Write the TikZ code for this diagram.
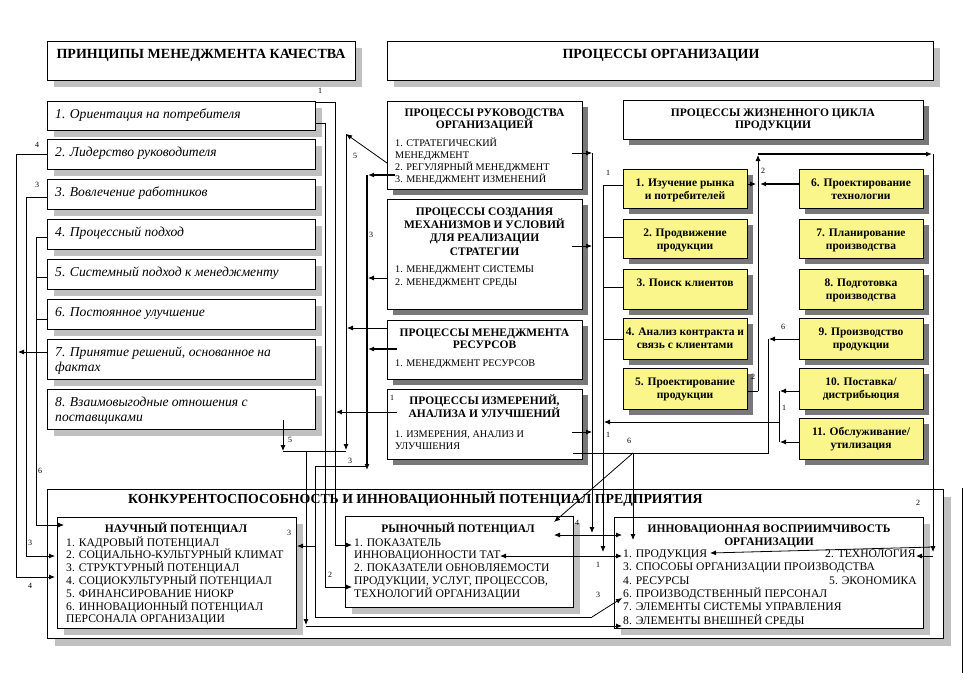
\documentclass[tikz,border=0pt]{standalone}
\usepackage{fontspec}
\setmainfont{Liberation Serif}
\usetikzlibrary{arrows.meta,shadows}
\definecolor{lshade}{RGB}{192,192,192}
\definecolor{dshade}{RGB}{120,120,120}
\definecolor{ybox}{RGB}{250,246,140}
\begin{document}
\begin{tikzpicture}[x=1pt,y=-1pt,
  bx/.style={draw, fill=white, line width=0.9pt, anchor=north west, inner sep=0pt, outer sep=0pt},
  yb/.style={bx, fill=ybox, dsh, minimum width=124pt},
  lsh/.style={general shadow={fill=lshade, shadow xshift=7pt, shadow yshift=-7pt}},
  dsh/.style={general shadow={fill=dshade, shadow xshift=6pt, shadow yshift=-6pt}},
  ht/.style={font=\fontsize{14}{16}\selectfont\bfseries, anchor=base, inner sep=0pt},
  lt/.style={font=\fontsize{13.6}{15}\selectfont\itshape, anchor=base west, inner sep=0pt},
  ct/.style={font=\fontsize{11.5}{13}\selectfont\bfseries, anchor=base, inner sep=0pt},
  ci/.style={font=\fontsize{10.2}{12}\selectfont, anchor=base west, inner sep=0pt},
  yt/.style={font=\fontsize{11.5}{13}\selectfont\bfseries, anchor=base, inner sep=0pt},
  bt/.style={font=\fontsize{11.6}{13}\selectfont, anchor=base west, inner sep=0pt},
  num/.style={font=\fontsize{8}{9}\selectfont, inner sep=0pt},
  ln/.style={line width=0.8pt},
  ar/.style={ln, -{Latex[length=6pt,width=5pt]}},
  dar/.style={ln, {Latex[length=6pt,width=5pt]}-{Latex[length=6pt,width=5pt]}},
  tk/.style={line width=1.7pt}
]
\useasboundingbox (0,0) rectangle (965,681);

% ---------- boxes ----------
\node[bx,lsh,minimum width=308pt,minimum height=39pt] (h1) at (47,41) {};
\node[bx,lsh,minimum width=546pt,minimum height=39pt] (h2) at (387,41) {};

\node[bx,lsh,minimum width=268pt,minimum height=29pt] (p1) at (47,101) {};
\node[bx,lsh,minimum width=268pt,minimum height=30pt] (p2) at (47,139) {};
\node[bx,lsh,minimum width=268pt,minimum height=30pt] (p3) at (47,179) {};
\node[bx,lsh,minimum width=268pt,minimum height=30pt] (p4) at (47,219) {};
\node[bx,lsh,minimum width=268pt,minimum height=30pt] (p5) at (47,259) {};
\node[bx,lsh,minimum width=268pt,minimum height=30pt] (p6) at (47,299) {};
\node[bx,lsh,minimum width=268pt,minimum height=40pt] (p7) at (47,339) {};
\node[bx,lsh,minimum width=268pt,minimum height=40pt] (p8) at (47,389) {};

\node[bx,dsh,minimum width=195pt,minimum height=88pt] (rk) at (387,101) {};
\node[bx,dsh,minimum width=195pt,minimum height=110pt] (sm) at (387,199) {};
\node[bx,dsh,minimum width=195pt,minimum height=59pt] (mr) at (387,320) {};
\node[bx,dsh,minimum width=195pt,minimum height=70pt] (iz) at (387,389) {};

\node[bx,dsh,minimum width=300pt,minimum height=39pt] (zc) at (623,100) {};

\node[yb,minimum height=39pt] (y1) at (623,169) {};
\node[yb,minimum height=39pt] (y2) at (623,219) {};
\node[yb,minimum height=40pt] (y3) at (623,269) {};
\node[yb,minimum height=41pt] (y4) at (623,318) {};
\node[yb,minimum height=41pt] (y5) at (623,368) {};
\node[yb,minimum height=39pt] (y6) at (799,169) {};
\node[yb,minimum height=39pt] (y7) at (799,219) {};
\node[yb,minimum height=40pt] (y8) at (799,269) {};
\node[yb,minimum height=41pt] (y9) at (799,318) {};
\node[yb,minimum height=41pt] (y10) at (799,368) {};
\node[yb,minimum height=41pt] (y11) at (799,418) {};

\node[bx,general shadow={fill=lshade, shadow xshift=8pt, shadow yshift=-8pt},minimum width=896pt,minimum height=149pt] (kb) at (47,489) {};
\node[bx,lsh,minimum width=239pt,minimum height=111pt] (np) at (57,517) {};
\node[bx,lsh,minimum width=228pt,minimum height=91pt] (rp) at (345,516) {};
\node[bx,lsh,minimum width=309pt,minimum height=111pt] (iv) at (614,517) {};

% ---------- connectors ----------
\draw[ar] (p1.east|-0,102) -- (335,102) -- (335,545) -- (352,545);
\draw[ar] (p1.east|-0,123) -- (325,123) -- (325,587) -- (352,587);
\draw[ar] (p2.west|-0,154) -- (16,154) -- (16,577) -- (55,577);
\draw[ar] (p7.west|-0,352) -- (18,352);
\draw[ar] (p3.west|-0,197) -- (26,197) -- (26,556) -- (55,556);
\draw[ar] (p4.west|-0,237) -- (36,237) -- (36,525) -- (64,525);
\draw[ln] (p5.west|-0,277) -- (36,277);
\draw[ln] (p6.west|-0,319) -- (36,319);
\draw[ar] (283,420) -- (283,451);
\draw[ln] (283,451) -- (346,451);
\draw[ar] (306,451) -- (306,625);
\draw[ar] (306,626) -- (622,626);
\draw[ar] (rk.west|-0,163) -- (346,134);
\draw[ar] (346,134) -- (346,450);
\draw[ar] (mr.west|-0,328) -- (347,328);
\draw[ar,tk] (395,175) -- (368,175);
\draw[ar,tk] (367,175) -- (367,470);
\draw[ar] (sm.west|-0,278) -- (368,278);
\draw[ar,tk] (397,349) -- (368,349);
\draw[ln] (367,466) -- (315,466) -- (315,617) -- (592,617);
\draw[ar] (592,617) -- (622,598);
\draw[ar] (315,546) -- (297,546);
\draw[ar] (397,412) -- (336,412);
\draw[ar] (572,153) -- (592,153);
\draw[ar] (572,246) -- (592,246);
\draw[ar] (572,432) -- (592,432);
\draw[ar] (592,153) -- (592,533);
\draw[dar] (554,535) -- (622,535);
\draw[ar] (y1.west|-0,185) -- (603,185) -- (603,552);
\draw[ln] (603,237) -- (y2.west|-0,237);
\draw[ln] (603,287) -- (y3.west|-0,287);
\draw[ln] (603,339) -- (y4.west|-0,339);
\draw[ar] (779,422) -- (604,422);
\draw[dar] (500,556) -- (622,556);
\draw[ln] (573,453) -- (768,453) -- (768,339);
\draw[ar] (y9.west|-0,339) -- (769,339);
\draw[ar] (633,453) -- (633,540);
\draw[ar] (633,453) -- (554,522);
\draw[ar] (y10.west|-0,391) -- (780,391);
\draw[ar] (y11.west|-0,442) -- (780,442);
\draw[ln] (779,391) -- (779,442);
\draw[ln] (y5.east|-0,391) -- (758,391);
\draw[ar] (758,391) -- (758,155);
\draw[ar,tk] (758,154) -- (932,154);
\draw[ar] (933,154) -- (933,552);
\draw[ar] (933,556) -- (916,556);
\draw[ar] (933,547) -- (710,553);
\draw[ar] (y1.east|-0,184) -- (756,184);
\draw[ar,tk] (y6.west|-0,184) -- (760,184);
\draw[ln] (962,488) -- (962,673);

% ---------- labels ----------
\node[num] (n1) at (320,91) {1};
\node[num] (n2) at (355,156) {5};
\node[num] (n3) at (371,235) {3};
\node[num] (n4) at (37,145) {4};
\node[num] (n5) at (37,185) {3};
\node[num] (n6) at (40,471) {6};
\node[num] (n7) at (290,440) {5};
\node[num] (n8) at (350,461) {3};
\node[num] (n9) at (392,398) {1};
\node[num] (n10) at (289,533) {3};
\node[num] (n11) at (30,543) {3};
\node[num] (n12) at (30,586) {4};
\node[num] (n13) at (330,575) {2};
\node[num] (n14) at (577,523) {4};
\node[num] (n15) at (598,565) {1};
\node[num] (n16) at (598,595) {3};
\node[num] (n17) at (608,173) {1};
\node[num] (n18) at (608,435) {1};
\node[num] (n19) at (629,441) {6};
\node[num] (n20) at (783,327) {6};
\node[num] (n21) at (784,408) {1};
\node[num] (n22) at (763,171) {2};
\node[num] (n23) at (753,377) {2};
\node[num] (n24) at (918,503) {2};

% ---------- texts ----------
\node[ht] (h1t) at (201,58) {ПРИНЦИПЫ МЕНЕДЖМЕНТА КАЧЕСТВА};
\node[ht] (h2t) at (661,58) {ПРОЦЕССЫ ОРГАНИЗАЦИИ};

\node[lt] (p1t) at (55,118) {1. Ориентация на потребителя};
\node[lt] (p2t) at (55,156.5) {2. Лидерство руководителя};
\node[lt] (p3t) at (55,196.5) {3. Вовлечение работников};
\node[lt] (p4t) at (55,236.5) {4. Процессный подход};
\node[lt] (p5t) at (55,276.5) {5. Системный подход к менеджменту};
\node[lt] (p6t) at (55,316.5) {6. Постоянное улучшение};
\node[lt] (p7t) at (55,356.5) {7. Принятие решений, основанное на};
\node[lt] (p7u) at (55,371.5) {фактах};
\node[lt] (p8t) at (55,406.5) {8. Взаимовыгодные отношения с};
\node[lt] (p8u) at (55,421.5) {поставщиками};

\node[ct] (rkt1) at (484.5,116) {ПРОЦЕССЫ РУКОВОДСТВА};
\node[ct] (rkt2) at (484.5,128) {ОРГАНИЗАЦИЕЙ};
\node[ci] (rki1) at (395,146) {1. СТРАТЕГИЧЕСКИЙ};
\node[ci] (rki2) at (395,158) {МЕНЕДЖМЕНТ};
\node[ci] (rki3) at (395,170) {2. РЕГУЛЯРНЫЙ МЕНЕДЖМЕНТ};
\node[ci] (rki4) at (395,182) {3. МЕНЕДЖМЕНТ ИЗМЕНЕНИЙ};

\node[ct] (smt1) at (484.5,215) {ПРОЦЕССЫ СОЗДАНИЯ};
\node[ct] (smt2) at (484.5,228) {МЕХАНИЗМОВ И УСЛОВИЙ};
\node[ct] (smt3) at (484.5,241) {ДЛЯ РЕАЛИЗАЦИИ};
\node[ct] (smt4) at (484.5,255) {СТРАТЕГИИ};
\node[ci] (smi1) at (395,272) {1. МЕНЕДЖМЕНТ СИСТЕМЫ};
\node[ci] (smi2) at (395,285) {2. МЕНЕДЖМЕНТ СРЕДЫ};

\node[ct] (mrt1) at (484.5,336) {ПРОЦЕССЫ МЕНЕДЖМЕНТА};
\node[ct] (mrt2) at (484.5,348) {РЕСУРСОВ};
\node[ci] (mri1) at (395,366) {1. МЕНЕДЖМЕНТ РЕСУРСОВ};

\node[ct] (izt1) at (484.5,404) {ПРОЦЕССЫ ИЗМЕРЕНИЙ,};
\node[ct] (izt2) at (484.5,417) {АНАЛИЗА И УЛУЧШЕНИЙ};
\node[ci] (izi1) at (395,437) {1. ИЗМЕРЕНИЯ, АНАЛИЗ И};
\node[ci] (izi2) at (395,449) {УЛУЧШЕНИЯ};

\node[ct] (zct1) at (773,116) {ПРОЦЕССЫ ЖИЗНЕННОГО ЦИКЛА};
\node[ct] (zct2) at (773,128) {ПРОДУКЦИИ};

\node[yt] (y1a) at (685,186) {1. Изучение рынка};
\node[yt] (y1b) at (685,199) {и потребителей};
\node[yt] (y2a) at (685,236) {2. Продвижение};
\node[yt] (y2b) at (685,249) {продукции};
\node[yt] (y3a) at (685,286) {3. Поиск клиентов};
\node[yt] (y4a) at (685,335) {4. Анализ контракта и};
\node[yt] (y4b) at (685,348) {связь с клиентами};
\node[yt] (y5a) at (685,385) {5. Проектирование};
\node[yt] (y5b) at (685,398) {продукции};
\node[yt] (y6a) at (861,186) {6. Проектирование};
\node[yt] (y6b) at (861,199) {технологии};
\node[yt] (y7a) at (861,236) {7. Планирование};
\node[yt] (y7b) at (861,249) {производства};
\node[yt] (y8a) at (861,286) {8. Подготовка};
\node[yt] (y8b) at (861,299) {производства};
\node[yt] (y9a) at (861,335) {9. Производство};
\node[yt] (y9b) at (861,348) {продукции};
\node[yt] (y10a) at (861,385) {10. Поставка/};
\node[yt] (y10b) at (861,398) {дистрибьюция};
\node[yt] (y11a) at (861,435) {11. Обслуживание/};
\node[yt] (y11b) at (861,448) {утилизация};

\node[font=\fontsize{13.8}{15}\selectfont\bfseries, anchor=base west, inner sep=0pt] (kbt) at (128,503) {КОНКУРЕНТОСПОСОБНОСТЬ И ИННОВАЦИОННЫЙ ПОТЕНЦИАЛ ПРЕДПРИЯТИЯ};

\node[ct] (npt) at (176,532) {НАУЧНЫЙ ПОТЕНЦИАЛ};
\node[bt] (np1) at (66,546) {1. КАДРОВЫЙ ПОТЕНЦИАЛ};
\node[bt] (np2) at (66,558.8) {2. СОЦИАЛЬНО-КУЛЬТУРНЫЙ КЛИМАТ};
\node[bt] (np3) at (66,571.6) {3. СТРУКТУРНЫЙ ПОТЕНЦИАЛ};
\node[bt] (np4) at (66,584.4) {4. СОЦИОКУЛЬТУРНЫЙ ПОТЕНЦИАЛ};
\node[bt] (np5) at (66,597.2) {5. ФИНАНСИРОВАНИЕ НИОКР};
\node[bt] (np6) at (66,610) {6. ИННОВАЦИОННЫЙ ПОТЕНЦИАЛ};
\node[bt] (np7) at (66,622.8) {ПЕРСОНАЛА ОРГАНИЗАЦИИ};

\node[ct] (rpt) at (458,532) {РЫНОЧНЫЙ ПОТЕНЦИАЛ};
\node[bt] (rp1) at (354,546) {1. ПОКАЗАТЕЛЬ};
\node[bt] (rp2) at (354,558.8) {ИННОВАЦИОННОСТИ ТАТ};
\node[bt] (rp3) at (354,571.6) {2. ПОКАЗАТЕЛИ ОБНОВЛЯЕМОСТИ};
\node[bt] (rp4) at (354,584.4) {ПРОДУКЦИИ, УСЛУГ, ПРОЦЕССОВ,};
\node[bt] (rp5) at (354,597.2) {ТЕХНОЛОГИЙ ОРГАНИЗАЦИИ};

\node[ct] (ivt1) at (769,532) {ИННОВАЦИОННАЯ ВОСПРИИМЧИВОСТЬ};
\node[ct] (ivt2) at (769,545) {ОРГАНИЗАЦИИ};
\node[bt] (iv1) at (623,557.5) {1. ПРОДУКЦИЯ};
\node[bt] (iv2) at (825,557.5) {2. ТЕХНОЛОГИЯ};
\node[bt] (iv3) at (623,570.8) {3. СПОСОБЫ ОРГАНИЗАЦИИ ПРОИЗВОДСТВА};
\node[bt] (iv4) at (623,584.1) {4. РЕСУРСЫ};
\node[bt] (iv5) at (829,584.1) {5. ЭКОНОМИКА};
\node[bt] (iv6) at (623,597.4) {6. ПРОИЗВОДСТВЕННЫЙ ПЕРСОНАЛ};
\node[bt] (iv7) at (623,610.7) {7. ЭЛЕМЕНТЫ СИСТЕМЫ УПРАВЛЕНИЯ};
\node[bt] (iv8) at (623,624) {8. ЭЛЕМЕНТЫ ВНЕШНЕЙ СРЕДЫ};
\end{tikzpicture}
\end{document}
